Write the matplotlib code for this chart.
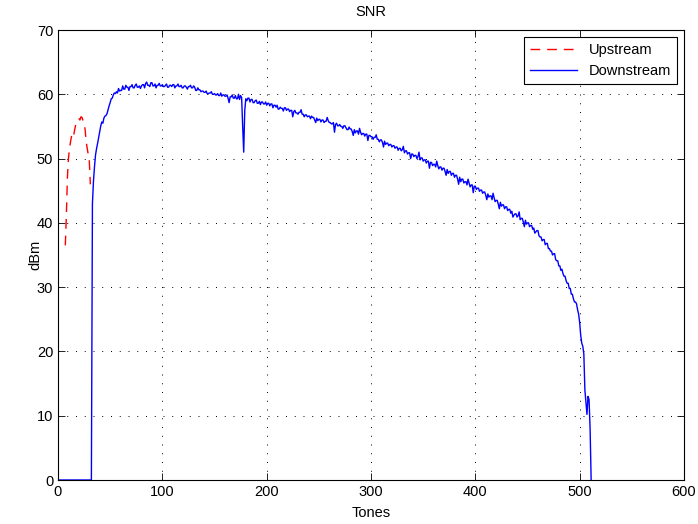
import matplotlib
matplotlib.use("Agg")
import matplotlib.pyplot as plt

plt.rcParams['font.family'] = ['Liberation Sans', 'DejaVu Sans']

# Upstream SNR (tones 7..31)
up_tones = [7, 8, 9, 10, 11, 12, 13, 14, 15, 16, 17, 18, 19, 20, 21, 22, 23, 24, 25, 26, 27, 28, 29, 30, 31]
up_snr = [36.5, 41.0, 47.0, 50.0, 51.5, 52.6, 53.5, 54.0, 53.6, 54.5, 55.3, 55.8, 56.0, 56.2, 56.0, 56.5, 56.4, 55.9, 55.4, 54.5, 52.6, 51.6, 50.6, 49.6, 46.0]

# Downstream SNR (tones 0..511)
down_snr = [
    0.0, 0.0, 0.0, 0.0, 0.0, 0.0, 0.0, 0.0, 0.0, 0.0,
    0.0, 0.0, 0.0, 0.0, 0.0, 0.0, 0.0, 0.0, 0.0, 0.0,
    0.0, 0.0, 0.0, 0.0, 0.0, 0.0, 0.0, 0.0, 0.0, 0.0,
    0.0, 0.0, 0.0, 43.0, 46.5, 48.8, 50.6, 51.6, 52.4, 53.3,
    54.2, 55.1, 55.7, 55.5, 56.3, 56.6, 56.7, 57.0, 57.6, 58.2,
    58.7, 59.3, 59.4, 59.9, 60.2, 60.1, 60.4, 60.2, 60.9, 60.5,
    60.6, 60.6, 61.3, 60.8, 60.8, 61.4, 61.1, 61.1, 60.6, 61.2,
    61.2, 61.5, 61.0, 61.0, 61.4, 61.6, 61.1, 61.1, 61.3, 60.9,
    61.3, 61.5, 61.5, 61.0, 61.7, 61.9, 61.4, 61.4, 61.2, 61.8,
    61.8, 61.3, 61.3, 61.6, 61.0, 61.4, 61.4, 61.7, 61.3, 61.3,
    61.5, 61.2, 61.2, 61.4, 61.6, 61.1, 61.1, 61.4, 61.4, 61.2,
    61.5, 61.5, 61.0, 61.3, 61.3, 61.6, 61.2, 61.2, 61.4, 61.0,
    61.0, 61.3, 61.3, 61.1, 60.8, 61.2, 61.2, 61.4, 61.0, 61.0,
    61.3, 61.1, 60.6, 60.6, 61.0, 60.7, 60.7, 60.4, 60.5, 60.5,
    60.3, 60.3, 60.5, 60.1, 60.1, 60.2, 60.2, 60.4, 60.0, 60.0,
    60.1, 59.9, 59.9, 60.1, 59.8, 59.8, 60.2, 59.7, 59.9, 59.9,
    59.7, 59.7, 59.9, 59.4, 58.7, 59.6, 59.6, 59.9, 59.4, 59.4,
    59.8, 59.3, 59.3, 60.0, 59.2, 59.8, 59.5, 55.0, 51.0, 57.5,
    59.3, 59.0, 59.4, 59.4, 58.8, 59.2, 59.2, 58.7, 58.7, 59.0,
    59.1, 58.6, 58.6, 58.9, 58.4, 58.8, 58.8, 58.5, 58.5, 58.8,
    58.3, 58.6, 58.6, 58.2, 58.5, 58.5, 57.9, 58.3, 58.3, 58.0,
    58.3, 57.7, 57.7, 58.0, 57.8, 57.8, 57.4, 57.9, 57.9, 57.5,
    57.7, 57.7, 57.3, 57.5, 57.5, 56.5, 57.3, 57.5, 57.1, 57.1,
    56.9, 57.2, 57.2, 57.6, 56.9, 56.9, 56.5, 56.8, 56.8, 56.5,
    56.6, 56.6, 56.2, 56.6, 56.4, 56.4, 56.0, 55.6, 56.3, 55.9,
    56.1, 56.1, 55.7, 56.0, 56.0, 55.6, 55.8, 55.8, 56.4, 55.9,
    55.6, 55.6, 55.4, 55.4, 55.6, 54.1, 55.3, 55.5, 55.1, 55.1,
    55.3, 55.0, 55.0, 54.7, 55.1, 55.1, 54.8, 54.5, 54.5, 54.9,
    54.6, 54.6, 54.2, 53.6, 54.5, 54.0, 54.3, 54.3, 53.8, 54.7,
    54.1, 53.7, 53.9, 53.9, 53.5, 53.8, 53.8, 52.8, 53.6, 53.6,
    53.4, 53.4, 53.0, 53.3, 53.3, 53.7, 53.0, 53.0, 52.6, 52.9,
    52.9, 52.5, 51.8, 52.7, 52.2, 52.4, 52.4, 52.0, 52.2, 52.2,
    51.8, 52.0, 52.0, 51.6, 51.8, 51.8, 51.3, 51.6, 51.6, 51.2,
    51.4, 51.9, 50.9, 51.2, 51.2, 50.7, 50.9, 50.9, 50.0, 50.7,
    50.7, 50.3, 50.5, 50.5, 50.0, 50.3, 51.0, 49.8, 50.1, 50.1,
    49.6, 49.8, 49.8, 49.3, 49.6, 49.6, 48.5, 49.4, 49.4, 48.9,
    49.1, 49.1, 48.7, 49.6, 48.9, 48.4, 48.7, 48.7, 48.2, 48.5,
    48.5, 48.0, 47.4, 48.3, 47.7, 48.0, 48.0, 47.4, 47.7, 47.7,
    47.1, 47.4, 47.4, 46.8, 46.0, 47.1, 46.4, 46.8, 46.8, 46.2,
    46.4, 46.4, 45.9, 46.8, 46.2, 45.6, 45.9, 45.9, 44.7, 45.7,
    45.7, 45.2, 45.4, 45.4, 44.9, 45.1, 45.1, 44.6, 44.8, 44.8,
    44.3, 43.6, 44.5, 44.0, 44.2, 44.2, 43.6, 44.6, 43.9, 43.3,
    43.5, 43.5, 42.9, 42.2, 43.2, 42.6, 42.8, 42.8, 42.2, 42.5,
    42.5, 41.9, 42.1, 42.1, 41.5, 41.8, 40.9, 41.2, 41.4, 41.4,
    40.9, 41.1, 41.7, 40.5, 40.7, 40.7, 40.1, 39.4, 40.4, 39.8,
    40.0, 40.0, 39.4, 39.6, 39.6, 39.0, 39.2, 38.4, 38.6, 38.8,
    38.8, 38.0, 37.8, 37.8, 37.2, 37.4, 37.4, 36.6, 36.8, 36.8,
    36.0, 36.0, 35.6, 35.6, 35.0, 35.2, 35.2, 34.3, 34.1, 34.1,
    33.3, 33.3, 32.6, 32.8, 32.1, 31.7, 31.7, 31.0, 30.6, 30.6,
    29.8, 29.8, 28.9, 28.9, 28.2, 27.7, 27.7, 27.4, 26.5, 25.8,
    24.5, 22.5, 21.3, 20.8, 19.6, 14.0, 12.0, 10.2, 13.0, 12.5,
    8.0, 0.0,
]
down_tones = list(range(len(down_snr)))

x_ticks = [0, 100, 200, 300, 400, 500, 600]
y_ticks = [0, 10, 20, 30, 40, 50, 60, 70]

fig = plt.figure(figsize=(6.98, 5.24), dpi=100)
ax = fig.add_axes([58/698, 44/524, 626/698, 450/524])

ax.plot(up_tones, up_snr, color='#ff0000', linestyle='--', linewidth=1.0,
        dashes=(7, 5), label='Upstream')
ax.plot(down_tones, down_snr, color='#0000ff', linewidth=1.0, label='Downstream')

ax.set_xlim(0, 600)
ax.set_ylim(0, 70)
ax.set_xticks(x_ticks)
ax.set_yticks(y_ticks)
ax.tick_params(direction='in', top=True, right=True, labelsize=10.5, length=5, width=0.6)
ax.grid(True, linestyle=(0, (1, 8)), color='black', linewidth=0.7)
for s in ax.spines.values():
    s.set_linewidth(0.8)

ax.set_title('SNR', fontsize=10.5, pad=10)
ax.set_xlabel('Tones', fontsize=10.5, labelpad=5)
ax.set_ylabel('dBm', fontsize=10.5, labelpad=-4)

leg = ax.legend(loc='upper right', fancybox=False, edgecolor='black', framealpha=1,
                fontsize=10.5, handlelength=3.2, borderaxespad=0.5,
                borderpad=0.4, labelspacing=0.45)
leg.get_frame().set_linewidth(0.8)

fig.savefig('out.png', dpi=100)
